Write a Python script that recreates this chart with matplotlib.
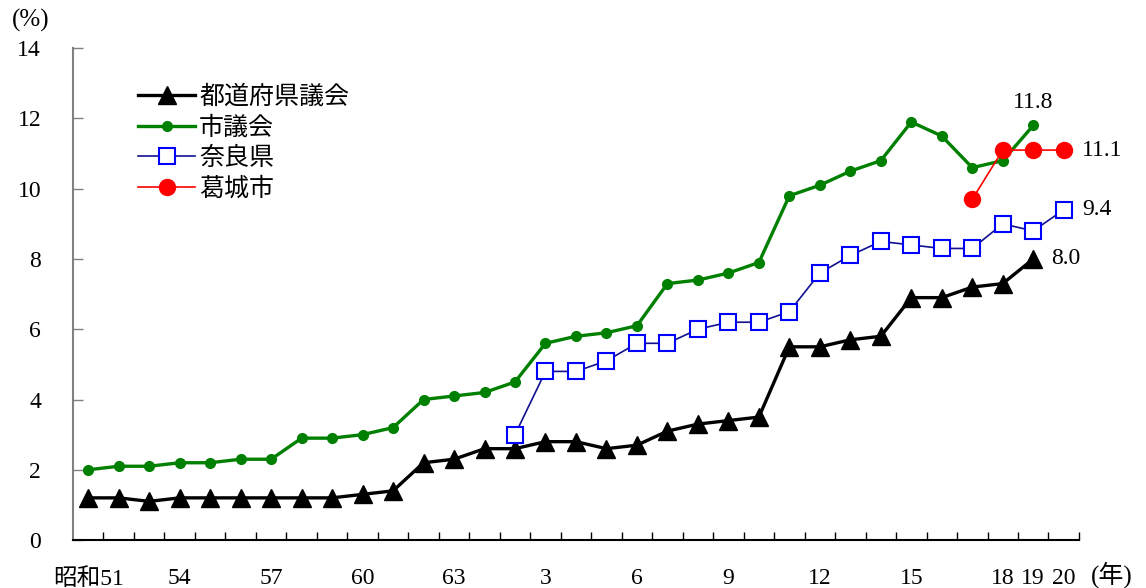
import matplotlib.pyplot as plt
import numpy as np

plt.rcParams['font.family'] = ['Liberation Serif', 'Noto Sans CJK JP']

# 昭和51(1976) - 平成20(2008)
years = list(range(33))
tick_pos = [0, 3, 6, 9, 12, 15, 18, 21, 24, 27, 30, 31, 32]
tick_labels = ['昭和51', '54', '57', '60', '63', '3', '6', '9', '12', '15', '18', '19', '20']

prefectural = [1.2, 1.2, 1.1, 1.2, 1.2, 1.2, 1.2, 1.2, 1.2, 1.3, 1.4, 2.2, 2.3, 2.6, 2.6, 2.8,
               2.8, 2.6, 2.7, 3.1, 3.3, 3.4, 3.5, 5.5, 5.5, 5.7, 5.8, 6.9, 6.9, 7.2, 7.3, 8.0,
               np.nan]
city = [2.0, 2.1, 2.1, 2.2, 2.2, 2.3, 2.3, 2.9, 2.9, 3.0, 3.2, 4.0, 4.1, 4.2, 4.5, 5.6,
        5.8, 5.9, 6.1, 7.3, 7.4, 7.6, 7.9, 9.8, 10.1, 10.5, 10.8, 11.9, 11.5, 10.6, 10.8, 11.8,
        np.nan]
nara = [np.nan] * 14 + [3.0, 4.8, 4.8, 5.1, 5.6, 5.6, 6.0, 6.2, 6.2, 6.5, 7.6, 8.1, 8.5, 8.4,
                       8.3, 8.3, 9.0, 8.8, 9.4]
katsuragi = [np.nan] * 29 + [9.7, 11.1, 11.1, 11.1]

fig = plt.figure(figsize=(11.46, 5.88), dpi=100)
ax = fig.add_axes([0.0637, 0.0816, 0.8778, 0.8364])

ax.plot(years, prefectural, color='black', lw=2.4, marker='^', ms=13, label='都道府県議会', zorder=3)
ax.plot(years, city, color='#008000', lw=2.4, marker='o', ms=7, label='市議会', zorder=3)
ax.plot(years, nara, color='#101090', lw=1.2, marker='s', ms=11, mfc='white', mec='#0000ff',
        mew=1.5, label='奈良県', zorder=4)
ax.plot(years, katsuragi, color='red', lw=1.2, marker='o', ms=11.5, label='葛城市', zorder=5)

ax.set_xlim(-0.5, 32.5)
ax.set_ylim(0, 14)
ax.set_yticks(np.arange(0, 15, 2))
ax.set_xticks(tick_pos)
ax.set_xticklabels(tick_labels)
ax.set_xticks(np.arange(0.5, 33, 1), minor=True)
ax.tick_params(axis='x', which='major', length=0, pad=20, labelsize=17)
ax.tick_params(axis='x', which='minor', direction='in', length=6, width=1)
ax.tick_params(axis='y', direction='in', length=7, width=1, color='#808080', pad=23, labelsize=17)

for s in ['top', 'right']:
    ax.spines[s].set_visible(False)
ax.spines['left'].set_color('#808080')
ax.spines['left'].set_linewidth(1.5)
ax.spines['bottom'].set_linewidth(1.5)

ax.text(31, 11.8 + 0.35, '11.8', fontsize=17, ha='center', va='bottom')
ax.text(32.6, 11.1, '11.1', fontsize=17, ha='left', va='center')
ax.text(32.6, 9.4, '9.4', fontsize=17, ha='left', va='center')
ax.text(31.6, 8.0, '8.0', fontsize=17, ha='left', va='center')

fig.text(0.01, 0.965, '(%)', fontsize=18, ha='left', va='center')
fig.text(0.952, 0.023, '(年)', fontsize=18, ha='left', va='center')

ax.legend(loc='upper left', bbox_to_anchor=(0.052, 0.95), frameon=False, fontsize=18,
          handlelength=2.3, handletextpad=0.15, labelspacing=0.29, borderpad=0)

fig.savefig('out.png', dpi=100)
